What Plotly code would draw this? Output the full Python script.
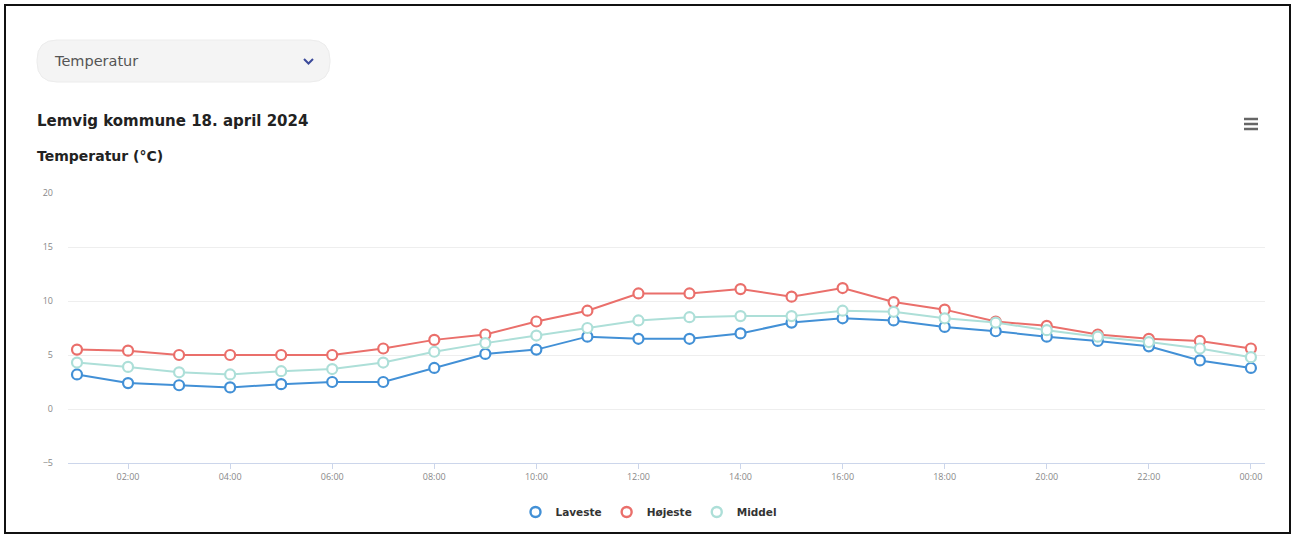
import plotly.graph_objects as go

hours = ["01:00", "02:00", "03:00", "04:00", "05:00", "06:00", "07:00", "08:00",
         "09:00", "10:00", "11:00", "12:00", "13:00", "14:00", "15:00", "16:00",
         "17:00", "18:00", "19:00", "20:00", "21:00", "22:00", "23:00", "00:00"]
laveste = [3.2, 2.4, 2.2, 2.0, 2.3, 2.5, 2.5, 3.8, 5.1, 5.5, 6.7, 6.5,
           6.5, 7.0, 8.0, 8.4, 8.2, 7.6, 7.2, 6.7, 6.3, 5.8, 4.5, 3.8]
hojeste = [5.5, 5.4, 5.0, 5.0, 5.0, 5.0, 5.6, 6.4, 6.9, 8.1, 9.1, 10.7,
           10.7, 11.1, 10.4, 11.2, 9.9, 9.2, 8.1, 7.7, 6.9, 6.5, 6.3, 5.6]
middel = [4.3, 3.9, 3.4, 3.2, 3.5, 3.7, 4.3, 5.3, 6.1, 6.8, 7.5, 8.2,
          8.5, 8.6, 8.6, 9.1, 9.0, 8.4, 8.0, 7.3, 6.7, 6.2, 5.6, 4.8]
x_ticks = hours[1::2]
y_ticks = [-5, 0, 5, 10, 15, 20]

W, H = 1295, 538
PL, PR, PT, PB = 68, 1265, 193, 463


def px(x):
    return (x - PL) / (PR - PL)


def py(y):
    return (PB - y) / (PB - PT)


fig = go.Figure()
series = [("Laveste", laveste, "#4290d6"),
          ("Højeste", hojeste, "#ea6f6b"),
          ("Middel", middel, "#addfd8")]
for name, vals, col in series:
    fig.add_trace(go.Scatter(
        x=hours, y=vals, name=name, mode="lines+markers", showlegend=False,
        line=dict(color=col, width=2),
        marker=dict(symbol="circle", size=10, color="white",
                    line=dict(color=col, width=2.2)),
    ))
# legend entries (marker only, like the reference)
for name, vals, col in series:
    fig.add_trace(go.Scatter(
        x=[None], y=[None], name=name, mode="markers", showlegend=True,
        marker=dict(symbol="circle", size=10, color="white",
                    line=dict(color=col, width=2.4)),
    ))

shapes = []
# outer black frame
shapes.append(dict(type="rect", xref="paper", yref="paper",
                   x0=px(5), x1=px(1290), y0=py(533), y1=py(5),
                   line=dict(color="#111111", width=2), layer="below"))
# dropdown rounded box
x0, x1, y0, y1, r = 37, 330, 40, 82, 20
path = (f"M {px(x0 + r)} {py(y0)} L {px(x1 - r)} {py(y0)} "
        f"Q {px(x1)} {py(y0)} {px(x1)} {py(y0 + r)} "
        f"L {px(x1)} {py(y1 - r)} "
        f"Q {px(x1)} {py(y1)} {px(x1 - r)} {py(y1)} "
        f"L {px(x0 + r)} {py(y1)} "
        f"Q {px(x0)} {py(y1)} {px(x0)} {py(y1 - r)} "
        f"L {px(x0)} {py(y0 + r)} "
        f"Q {px(x0)} {py(y0)} {px(x0 + r)} {py(y0)} Z")
shapes.append(dict(type="path", xref="paper", yref="paper", path=path,
                   fillcolor="#f4f4f4", line=dict(color="#ececec", width=1),
                   layer="below"))
# chevron
shapes.append(dict(type="path", xref="paper", yref="paper",
                   path=f"M {px(304)} {py(59)} L {px(308.5)} {py(63.5)} L {px(313)} {py(59)}",
                   line=dict(color="#3b4a9a", width=2)))
# hamburger menu icon
for yy in (119, 124, 129):
    shapes.append(dict(type="line", xref="paper", yref="paper",
                       x0=px(1244), x1=px(1258), y0=py(yy), y1=py(yy),
                       line=dict(color="#666666", width=2.5)))

annotations = [
    dict(text="Temperatur", x=px(52), y=py(61), xref="paper", yref="paper",
         xanchor="left", yanchor="middle", showarrow=False,
         font=dict(family="DejaVu Sans", size=14.5, color="#555555")),
    dict(text="<b>Lemvig kommune 18. april 2024</b>", x=px(35), y=py(121),
         xref="paper", yref="paper", xanchor="left", yanchor="middle",
         showarrow=False, font=dict(family="DejaVu Sans", size=15, color="#222222")),
    dict(text="<b>Temperatur (°C)</b>", x=px(35), y=py(156),
         xref="paper", yref="paper", xanchor="left", yanchor="middle",
         showarrow=False, font=dict(family="DejaVu Sans", size=14, color="#222222")),
]

fig.update_layout(
    width=W, height=H,
    margin=dict(l=PL, r=W - PR, t=PT, b=H - PB, pad=0),
    paper_bgcolor="white", plot_bgcolor="white",
    showlegend=True,
    legend=dict(orientation="h", x=px(649), xanchor="center", y=py(512),
                yanchor="middle",
                font=dict(family="DejaVu Sans", size=10.5, color="#333333",
                          weight="bold"),
                itemwidth=30, tracegroupgap=0),
    shapes=shapes, annotations=annotations,
    font=dict(family="Open Sans"),
)
fig.update_xaxes(
    type="category", categoryorder="array", categoryarray=hours,
    range=[(PL - 77) / 51.04, (PR - 77) / 51.04],
    tickvals=x_ticks, ticktext=x_ticks,
    showgrid=False, showline=True, linecolor="#ccd6eb", linewidth=1,
    ticks="outside", ticklen=5, tickcolor="#ccd6eb",
    tickfont=dict(size=9, color="#888888"), zeroline=False,
)
fig.update_yaxes(
    range=[-5, 20], tickvals=y_ticks,
    showgrid=True, gridcolor="#eeeeee", gridwidth=1, zeroline=False,
    tickfont=dict(size=9, color="#888888"), ticklabelstandoff=14,
)

fig.write_html("out.html", config={"displayModeBar": False},
               post_script="document.body.style.margin='0';document.body.style.overflow='hidden';")
